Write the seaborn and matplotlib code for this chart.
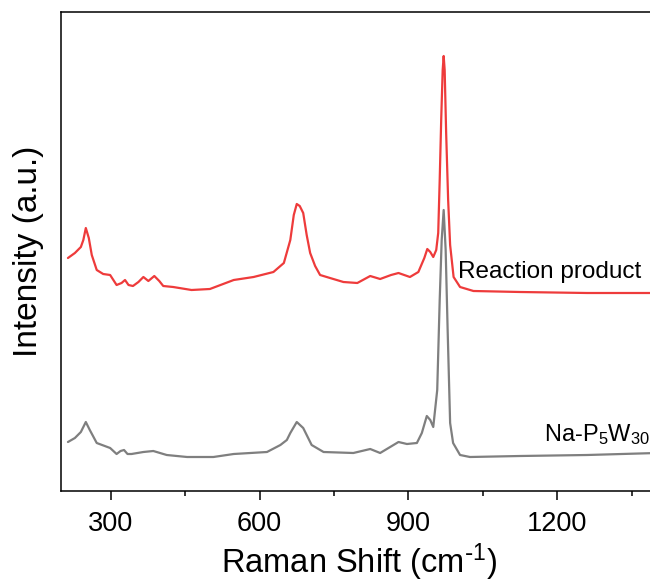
import numpy as np
import pandas as pd
import matplotlib
matplotlib.use("Agg")
import matplotlib.pyplot as plt
import seaborn as sns
from matplotlib.ticker import MultipleLocator

sns.set_theme(style="ticks")
plt.rcParams['font.family'] = ['Liberation Sans', 'DejaVu Sans']
plt.rcParams['mathtext.default'] = 'regular'
plt.rcParams['text.color'] = 'black'
plt.rcParams['axes.labelcolor'] = 'black'
plt.rcParams['xtick.color'] = 'black'
plt.rcParams['ytick.color'] = 'black'

# Reaction product (red), arbitrary intensity units
red_x = [214, 228, 240, 245, 250, 256, 262, 272, 285, 299, 312, 322, 329, 336, 345,
         356, 366, 376, 388, 398, 406, 426, 463, 500, 548, 588, 628, 649, 662, 669,
         675, 681, 688, 695, 702, 712, 722, 742, 769, 797, 823, 843, 865, 880, 903,
         920, 932, 938, 944, 950, 956, 960, 963, 966, 969, 971, 973, 976, 980, 984,
         991, 1004, 1031, 1125, 1260, 1400]
red_y = [233, 238, 244, 251, 263, 253, 236, 221, 217, 216, 206, 208, 211, 206, 205,
         209, 214, 210, 215, 210, 205, 204, 201, 202, 211, 214, 219, 228, 251, 276,
         287, 285, 278, 256, 238, 225, 216, 213, 209, 208, 215, 212, 216, 218, 214,
         219, 233, 242, 239, 234, 241, 258, 311, 371, 421, 435, 421, 358, 291, 246,
         214, 204, 200, 199, 198, 198]

# Na-P5W30 (grey)
grey_x = [214, 228, 240, 250, 258, 272, 299, 312, 320, 327, 334, 342, 366, 386, 413,
          454, 507, 548, 615, 642, 655, 662, 675, 688, 705, 729, 789, 823, 843, 880,
          897, 917, 927, 937, 944, 950, 958, 963, 967, 971, 975, 979, 984, 990, 1004,
          1024, 1125, 1260, 1400]
grey_y = [49, 53, 59, 69, 61, 48, 43, 37, 40, 41, 37, 37, 39, 40, 36,
          34, 34, 37, 39, 46, 51, 58, 69, 63, 46, 39, 38, 42, 38, 49,
          47, 48, 58, 75, 71, 64, 101, 191, 251, 281, 241, 161, 68, 48, 36,
          34, 35, 36, 38]

labels = ["Reaction product", "Na-P$_5$W$_{30}$"]
colors = ["#EE3B3B", "#7F7F7F"]
xticks = [300, 600, 900, 1200]

df = pd.concat([
    pd.DataFrame({"x": red_x, "y": red_y, "s": labels[0]}),
    pd.DataFrame({"x": grey_x, "y": grey_y, "s": labels[1]}),
])

fig = plt.figure(figsize=(6.5, 5.84), dpi=100)
ax = fig.add_axes([61/650, 93/584, 595.6/650, 479/584])
sns.lineplot(data=df, x="x", y="y", hue="s", palette=colors, hue_order=labels,
             sort=False, estimator=None, linewidth=1.6, legend=False, ax=ax)

ax.set_xlim(200, 1400)
ax.set_ylim(0, 479)
ax.set_xticks(xticks)
ax.xaxis.set_minor_locator(MultipleLocator(150))
ax.set_yticks([])
ax.tick_params(axis='x', which='major', direction='out', length=6.5, width=1.1,
               labelsize=19.5, pad=8)
ax.tick_params(axis='x', which='minor', direction='out', length=3.6, width=1.1)
for sp in ax.spines.values():
    sp.set_linewidth(1.1)
    sp.set_color('black')

ax.set_xlabel(r"Raman Shift (cm$^{\text{-}1}$)", fontsize=23.5, labelpad=3)
ax.set_ylabel("Intensity (a.u.)", fontsize=24, labelpad=12)

ax.text(1000, 219, labels[0], fontsize=17.5, ha='left', va='center', color='black')
ax.text(1174, 56, labels[1], fontsize=17, ha='left', va='center', color='black')

fig.savefig("out.png", dpi=100)
